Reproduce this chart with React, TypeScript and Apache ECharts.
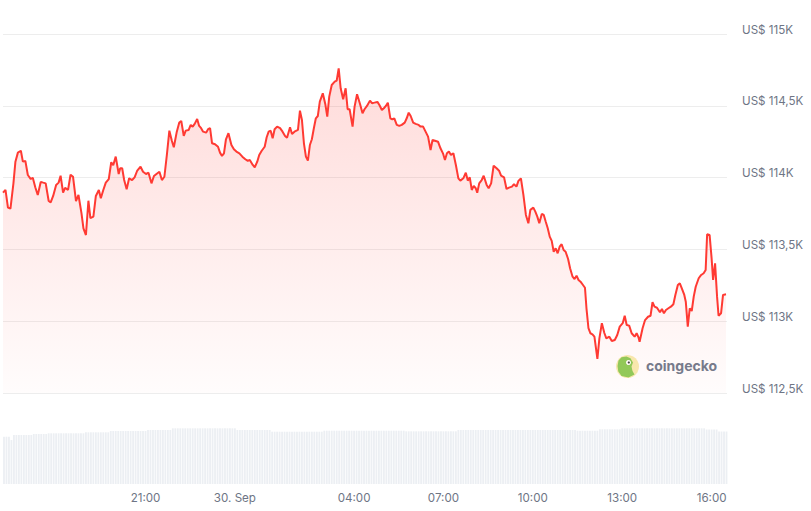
import React, { useEffect, useRef } from "react";
import * as echarts from "echarts";

// Minutes relative to 30 Sep 00:00 (negative = 29 Sep)
const priceMinutes = [
  -467, -462, -457, -452, -446, -442, -437, -431, -427, -422, -417, -411, -407, -402, -397, -391,
  -386, -381, -375, -371, -366, -360, -355, -351, -346, -342, -336, -331, -326, -320, -315, -309,
  -305, -300, -295, -291, -285, -280, -274, -270, -265, -260, -254, -249, -245, -240, -234, -231,
  -227, -223, -218, -213, -207, -202, -197, -190, -185, -179, -174, -168, -163, -158, -152, -147,
  -142, -137, -132, -127, -123, -117, -112, -108, -103, -99, -93, -89, -85, -81, -76, -72,
  -68, -64, -58, -54, -50, -46, -40, -34, -30, -26, -22, -18, -13, -7, -2, 3,
  9, 15, 21, 26, 30, 36, 40, 45, 49, 54, 60, 64, 68, 72, 76, 80,
  85, 91, 96, 101, 105, 111, 115, 120, 127, 131, 135, 139, 143, 147, 151, 155,
  159, 163, 167, 171, 177, 182, 186, 190, 195, 201, 205, 209, 213, 218, 223, 227,
  231, 237, 241, 246, 252, 257, 261, 266, 272, 276, 281, 287, 291, 296, 300, 304,
  308, 313, 317, 321, 326, 331, 336, 342, 346, 350, 354, 359, 364, 370, 374, 379,
  383, 389, 394, 398, 403, 409, 414, 419, 423, 427, 431, 435, 440, 445, 450, 454,
  460, 465, 469, 473, 477, 481, 485, 488, 492, 497, 501, 507, 511, 516, 521, 527,
  532, 536, 542, 547, 552, 558, 562, 567, 571, 576, 581, 586, 591, 595, 601, 605,
  609, 613, 618, 622, 626, 630, 634, 638, 642, 646, 650, 654, 658, 662, 666, 671,
  675, 680, 684, 688, 692, 696, 701, 705, 708, 712, 716, 720, 724, 730, 734, 739,
  744, 748, 754, 759, 765, 770, 775, 781, 785, 789, 794, 799, 805, 809, 813, 815,
  821, 826, 832, 837, 841, 845, 850, 856, 860, 864, 868, 873, 878, 883, 887, 892,
  896, 900, 905, 908, 912, 916, 920, 924, 928, 934, 939, 944, 948, 951, 956, 960,
  963, 967, 971, 974, 979, 983, 989,
];

const prices = [
  113895, 113914, 113791, 113784, 113960, 114111, 114174, 114187, 114111, 114116, 114018, 113990, 113999, 113933, 113879, 113970,
  113965, 113960, 113837, 113828, 113872, 113949, 113965, 114013, 113895, 113928, 113914, 114020, 114006, 113837, 113879, 113752,
  113647, 113600, 113839, 113717, 113728, 113872, 113914, 113856, 113914, 113965, 113990, 114107, 114086, 114146, 114025, 114065,
  114065, 113983, 113919, 113995, 113983, 114002, 114046, 114076, 114041, 114025, 114034, 113960, 114011, 114025, 114041, 113983,
  114006, 114158, 114327, 114257, 114211, 114320, 114383, 114394, 114290, 114327, 114332, 114367, 114355, 114374, 114408, 114360,
  114344, 114320, 114313, 114337, 114344, 114239, 114232, 114215, 114174, 114151, 114169, 114267, 114309, 114227, 114197, 114181,
  114169, 114146, 114128, 114116, 114123, 114088, 114072, 114111, 114158, 114187, 114215, 114281, 114320, 114327, 114274, 114337,
  114355, 114344, 114320, 114290, 114278, 114351, 114304, 114320, 114332, 114466, 114401, 114239, 114146, 114118, 114227, 114267,
  114344, 114413, 114429, 114529, 114587, 114513, 114424, 114564, 114645, 114668, 114675, 114761, 114622, 114546, 114622, 114476,
  114476, 114355, 114494, 114580, 114513, 114448, 114476, 114499, 114536, 114518, 114522, 114527, 114506, 114471, 114483, 114499,
  114522, 114413, 114406, 114413, 114367, 114360, 114367, 114383, 114413, 114452, 114429, 114383, 114374, 114367, 114355, 114355,
  114327, 114285, 114192, 114262, 114257, 114250, 114204, 114169, 114123, 114169, 114181, 114158, 114169, 114088, 113995, 113979,
  113995, 114034, 113979, 114002, 113914, 113942, 113926, 113895, 113960, 113983, 114013, 113949, 113926, 113960, 114083, 114065,
  114048, 114013, 114002, 113921, 113930, 113937, 113954, 113937, 113977, 113995, 113879, 113740, 113682, 113775, 113791, 113763,
  113728, 113682, 113747, 113740, 113693, 113647, 113589, 113559, 113484, 113508, 113473, 113519, 113536, 113496, 113484, 113433,
  113369, 113310, 113294, 113317, 113287, 113275, 113252, 113233, 113090, 112951, 112916, 112909, 112892, 112737, 112881, 112986,
  112918, 112881, 112892, 112862, 112869, 112904, 112962, 112986, 113038, 112974, 112969, 112916, 112892, 112916, 112885, 112857,
  112951, 113008, 113031, 113038, 113132, 113101, 113094, 113062, 113085, 113055, 113078, 113090, 113101, 113118, 113183, 113252,
  113264, 113229, 113183, 113136, 112962, 113090, 113071, 113171, 113240, 113299, 113322, 113334, 113357, 113605, 113600, 113438,
  113287, 113403, 113171, 113038, 113055, 113183, 113187,
];

// 5-minute volume bars (24h rolling volume, US$ billions)
const volumeStartMinute = -465;
const volumeStepMinutes = 5;
const volumes = [
  47.3, 47.3, 47.3, 44,
  49, 49, 49, 49, 49, 49, 49, 49,
  50, 50, 50, 50, 50, 50,
  50.7, 50.7, 50.7, 50.7, 50.7, 50.7, 50.7, 50.7, 50.7, 50.7, 50.7, 50.7, 50.7, 50.7, 50.7,
  51.7, 51.7, 51.7, 51.7, 51.7, 51.7, 51.7, 51.7, 51.7, 51.7,
  53, 53, 53, 53, 53, 53, 53, 53, 53, 53, 53, 53, 53, 53, 53,
  54, 54, 54, 54, 54, 54, 54, 54, 54, 54,
  55.7, 55.7, 55.7, 55.7, 55.7, 55.7, 55.7, 55.7, 55.7, 55.7, 55.7, 55.7, 55.7,
  55.7, 55.7, 55.7, 55.7, 55.7, 55.7, 55.7, 55.7, 55.7, 55.7, 55.7, 55.7, 55.7,
  54, 54, 54, 54, 54, 54, 54, 54, 54, 54, 54, 54, 54, 54,
  52.3, 52.3, 52.3, 52.3, 52.3, 52.3, 52.3, 52.3, 52.3, 52.3, 52.3,
  52.3, 52.3, 52.3, 52.3, 52.3, 52.3, 52.3, 52.3, 52.3, 52.3,
  53.3, 53.3, 53.3, 53.3, 53.3, 53.3, 53.3, 53.3, 53.3, 53.3, 53.3,
  53.3, 53.3, 53.3, 53.3, 53.3, 53.3, 53.3, 53.3, 53.3, 53.3, 53.3,
  53.3, 53.3, 53.3, 53.3, 53.3, 53.3, 53.3, 53.3, 53.3, 53.3, 53.3,
  52.7, 52.7, 52.7, 52.7, 52.7, 52.7, 52.7, 52.7, 52.7, 52.7, 52.7,
  52.7, 52.7, 52.7, 52.7, 52.7, 52.7, 52.7, 52.7, 52.7, 52.7,
  54, 54, 54, 54, 54, 54, 54, 54, 54, 54, 54, 54, 54, 54, 54, 54,
  54, 54, 54, 54, 54, 54, 54, 54, 54, 54, 54, 54, 54, 54, 54, 54,
  54, 54, 54, 54, 54, 54, 54, 54, 54, 54, 54, 54, 54, 54, 54, 54,
  53.3, 53.3, 53.3, 53.3, 53.3, 53.3, 53.3, 53.3, 53.3,
  54.7, 54.7, 54.7, 54.7, 54.7, 54.7, 54.7, 54.7, 54.7,
  55.7, 55.7, 55.7, 55.7, 55.7, 55.7, 55.7, 55.7, 55.7, 55.7, 55.7, 55.7,
  55.7, 55.7, 55.7, 55.7, 55.7, 55.7, 55.7, 55.7, 55.7, 55.7, 55.7, 55.7,
  55.7, 55.7, 55.7, 55.7, 55.7, 55.7, 55.7, 55.7, 55.7, 55.7,
  54.5, 54.5, 54.5, 54.5, 54.5,
  52.5, 52.5, 52.5, 52.5,
];

const xTickMinutes = [-180, 0, 240, 420, 600, 780, 960];
const priceMin = 112500;
const priceMax = 115000;
const priceStep = 500;

const FONT = "Inter, 'Noto Sans', sans-serif";
const LABEL_COLOR = "#6e7585";

function fmtTime(m: number): string {
  if (m === 0) return "30. Sep";
  const mm = ((m % 1440) + 1440) % 1440;
  const h = Math.floor(mm / 60);
  const mi = mm % 60;
  return `${String(h).padStart(2, "0")}:${String(mi).padStart(2, "0")}`;
}

function fmtPrice(v: number): string {
  return "US$ " + String(v / 1000).replace(".", ",") + "K";
}

export default function App() {
  const ref = useRef<HTMLDivElement>(null);

  useEffect(() => {
    if (!ref.current) return;
    const chart = echarts.init(ref.current, null, { renderer: "svg" });
    const X_MIN = -467;
    const X_MAX = 991;

    chart.setOption({
      animation: false,
      grid: [
        { left: 3, right: 84, top: 34, height: 359 },
        { left: 3, right: 84, top: 424, height: 60 },
      ],
      xAxis: [
        { type: "value", gridIndex: 0, min: X_MIN, max: X_MAX, show: false },
        {
          type: "value",
          gridIndex: 1,
          min: X_MIN,
          max: X_MAX,
          axisLine: { show: false },
          axisTick: { show: false },
          splitLine: { show: false },
          axisLabel: {
            customValues: xTickMinutes,
            formatter: fmtTime,
            color: LABEL_COLOR,
            fontSize: 11.6,
            fontFamily: FONT,
            margin: 8,
          },
        },
      ],
      yAxis: [
        {
          type: "value",
          gridIndex: 0,
          position: "right",
          min: priceMin,
          max: priceMax,
          interval: priceStep,
          axisLine: { show: false },
          axisTick: { show: false },
          splitLine: { lineStyle: { color: "#ededed", width: 1 } },
          axisLabel: {
            formatter: fmtPrice,
            color: LABEL_COLOR,
            fontSize: 11.6,
            fontFamily: FONT,
            margin: 15,
            verticalAlign: "bottom",
            lineHeight: 9,
          },
        },
        { type: "value", gridIndex: 1, min: 0, max: 60, show: false },
      ],
      series: [
        {
          type: "bar",
          xAxisIndex: 1,
          yAxisIndex: 1,
          data: volumes.map((v, i) => [volumeStartMinute + i * volumeStepMinutes, v]),
          barWidth: 1.8,
          itemStyle: { color: "#eceff3" },
          silent: true,
        },
        {
          type: "line",
          xAxisIndex: 0,
          yAxisIndex: 0,
          data: priceMinutes.map((m, i) => [m, prices[i]]),
          showSymbol: false,
          symbol: "none",
          lineStyle: { color: "#ff3a33", width: 2 },
          areaStyle: {
            origin: "start",
            color: new echarts.graphic.LinearGradient(0, 0, 0, 1, [
              { offset: 0, color: "rgba(255,58,51,0.26)" },
              { offset: 1, color: "rgba(255,58,51,0.02)" },
            ]),
          },
          z: 3,
        },
      ],
      graphic: [
        {
          type: "group",
          z: 100,
          children: [
            { type: "circle", shape: { cx: 627.5, cy: 366.5, r: 11.5 }, style: { fill: "#f8ecb0" } },
            {
              type: "polygon",
              shape: {
                points: [
                  [617.5, 366], [618.5, 360.5], [621.5, 357.3], [626.5, 356.6], [630.5, 358.3],
                  [633, 362.5], [631.5, 366.5], [632.5, 371], [634.5, 374.5], [628.5, 377.6],
                  [621.5, 376], [618.3, 371.5],
                ],
              },
              style: { fill: "#8fcc5a" },
            },
            { type: "circle", shape: { cx: 628.5, cy: 362.5, r: 2.5 }, style: { fill: "#ffffff" } },
            { type: "circle", shape: { cx: 628.8, cy: 362.5, r: 1.1 }, style: { fill: "#444444" } },
            {
              type: "text",
              x: 646,
              y: 365,
              style: {
                text: "coingecko",
                fill: "#737c8d",
                font: `bold 14px ${FONT}`,
                verticalAlign: "middle",
              },
            },
          ],
        },
      ],
    });

    return () => chart.dispose();
  }, []);

  return (
    <div
      ref={ref}
      style={{ position: "absolute", left: 0, top: 0, width: 811, height: 511 }}
    />
  );
}
